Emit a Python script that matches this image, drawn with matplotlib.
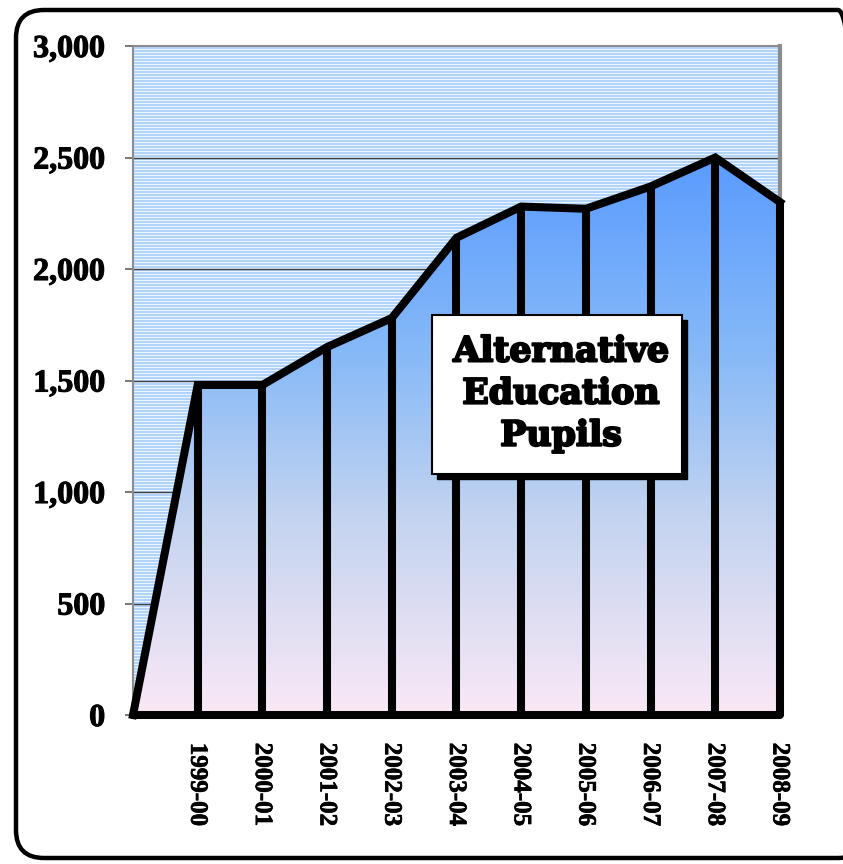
import numpy as np
import matplotlib
matplotlib.use("Agg")
import matplotlib.pyplot as plt
import matplotlib.patheffects as pe
from matplotlib.patches import FancyBboxPatch, Rectangle
from matplotlib.transforms import IdentityTransform
from matplotlib.colors import LinearSegmentedColormap

categories = ["", "1999-00", "2000-01", "2001-02", "2002-03", "2003-04",
              "2004-05", "2005-06", "2006-07", "2007-08", "2008-09"]
pupils = [0, 1480, 1480, 1650, 1780, 2140, 2280, 2270, 2370, 2500, 2300]
y_ticks = [0, 500, 1000, 1500, 2000, 2500, 3000]
y_labels = ["0", "500", "1,000", "1,500", "2,000", "2,500", "3,000"]
title_text = "Alternative\nEducation\nPupils"

W, H = 843, 864
fig = plt.figure(figsize=(W / 100, H / 100), dpi=100)
fig.patch.set_facecolor("white")

serif = ["Liberation Serif", "DejaVu Serif"]

# outer rounded border (pixel coordinates)
border = FancyBboxPatch((16, 6), 850, 848, boxstyle="round,pad=0,rounding_size=28",
                        transform=IdentityTransform(), facecolor="none",
                        edgecolor="black", linewidth=3.2, zorder=0)
fig.patches.append(border)

ax = fig.add_axes([133 / W, (H - 715) / H, 647 / W, 669 / H])
x = np.arange(len(categories))
ax.set_xlim(0, len(categories) - 1)
ax.set_ylim(0, 3000)

# striped background
rows = 669
stripe = np.zeros((rows, 1, 3))
c_blue = np.array([0xb2, 0xd4, 0xfb]) / 255
c_white = np.array([0xea, 0xf4, 0xff]) / 255
for r in range(rows):
    stripe[r, 0] = c_white if r % 3 == 0 else c_blue
ax.imshow(stripe, extent=[0, 1, 0, 1], transform=ax.transAxes, aspect="auto",
          interpolation="nearest", zorder=0)

# gridlines
for t in y_ticks[1:-1]:
    ax.axhline(t, color="#404040", lw=1.0, zorder=1)

# gradient fill clipped to area
poly = ax.fill_between(x, 0, pupils, facecolor="none", edgecolor="none", zorder=2)
cmap = LinearSegmentedColormap.from_list(
    "g", [(0.0, "#fae8f6"), (0.35, "#c4d4f0"), (0.65, "#86b9f7"), (1.0, "#5a9bff")])
grad = np.linspace(0, 1, 256).reshape(-1, 1)
im = ax.imshow(grad, extent=[0, 10, 0, max(pupils)], origin="lower", aspect="auto",
               cmap=cmap, zorder=2, interpolation="bilinear")
path = poly.get_paths()[0]
im.set_clip_path(path, transform=ax.transData)
ax.set_xlim(0, len(categories) - 1)
ax.set_ylim(0, 3000)

# outlines
lw = 5.8
ax.vlines(x[1:], 0, pupils[1:], colors="black", lw=lw, zorder=4, clip_on=False)
ax.plot(x, pupils, color="black", lw=lw, solid_joinstyle="miter", zorder=5, clip_on=False)
ax.plot([0, 10], [0, 0], color="black", lw=lw, solid_capstyle="round", zorder=5, clip_on=False)

# spines
for s in ["top", "right", "left"]:
    ax.spines[s].set_color("#8c8c8c")
ax.spines["right"].set_linewidth(3)
ax.spines["top"].set_linewidth(1.5)
ax.spines["left"].set_linewidth(1.5)
ax.spines["bottom"].set_visible(False)

bold_fx = [pe.withStroke(linewidth=0.8, foreground="black")]
ax.set_yticks(y_ticks)
ax.set_yticklabels(y_labels, fontfamily=serif, fontweight="bold", fontsize=23)
for t in ax.get_yticklabels():
    t.set_path_effects(bold_fx)
ax.tick_params(axis="y", length=6, width=1.2, color="#606060", pad=14)
ax.set_xticks(x[1:])
ax.set_xticklabels(categories[1:], rotation=270, fontfamily=serif,
                   fontweight="bold", fontsize=18, va="top", ha="center")
for t in ax.get_xticklabels():
    t.set_path_effects([pe.withStroke(linewidth=0.5, foreground="black")])
ax.tick_params(axis="x", length=0, pad=20)

# title box
bx0, by0, bw, bh = 432, H - 474, 250, 159
fig.patches.append(Rectangle((bx0 + 5, by0 - 5), bw, bh, transform=IdentityTransform(),
                             facecolor="black", edgecolor="black", zorder=10))
fig.patches.append(Rectangle((bx0, by0), bw, bh, transform=IdentityTransform(),
                             facecolor="white", edgecolor="black", lw=1.5, zorder=11))
fig.text((bx0 + bw / 2 + 4) / W, (by0 + bh / 2 + 1) / H, title_text, ha="center", va="center",
         fontfamily="DejaVu Serif", fontweight="bold", fontsize=25, linespacing=1.3,
         zorder=12, path_effects=[pe.withStroke(linewidth=1.6, foreground="black")])

fig.savefig("out.png", dpi=100)
